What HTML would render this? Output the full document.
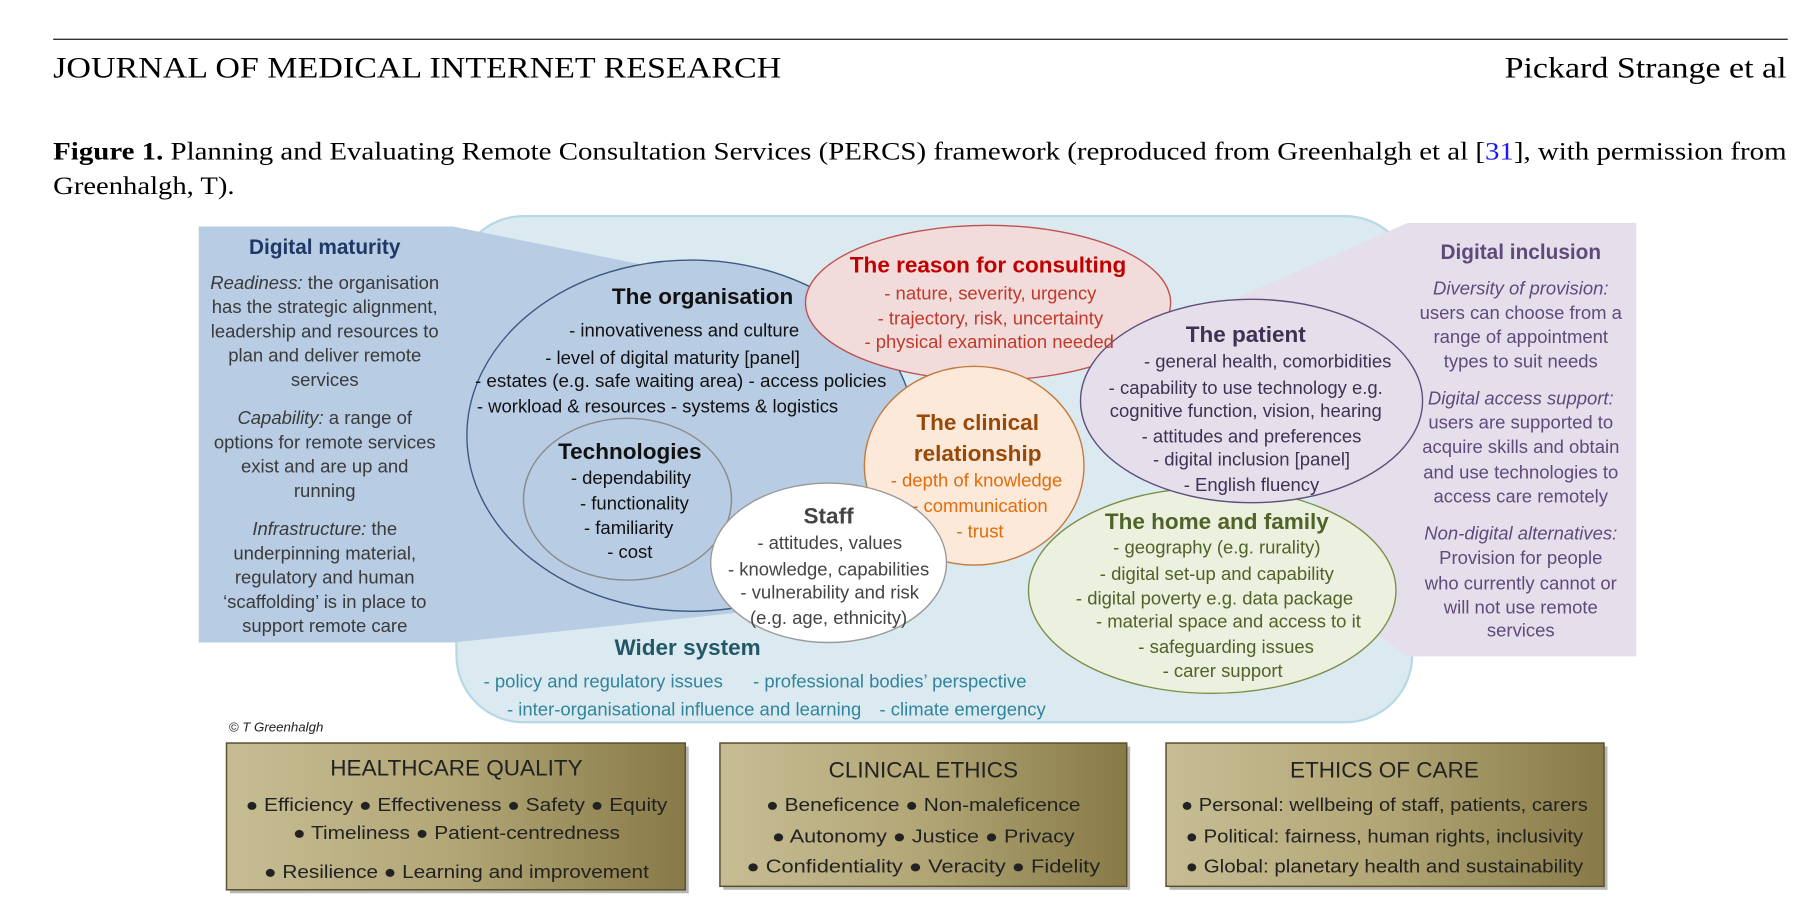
<!DOCTYPE html>
<html><head><meta charset="utf-8"><style>
html,body{margin:0;padding:0;background:#fff;width:1812px;height:921px;overflow:hidden}
svg{display:block}
.c{font-family:"Liberation Sans",sans-serif;text-anchor:middle}
.s{font-family:"Liberation Serif",serif}
</style></head><body>
<svg width="1812" height="921" viewBox="0 0 1568 797" preserveAspectRatio="none" xmlns="http://www.w3.org/2000/svg">
<defs>
<linearGradient id="g" x1="0" x2="1" y1="0" y2="0"><stop offset="0" stop-color="#c7bd94"/><stop offset="0.5" stop-color="#b2a676"/><stop offset="1" stop-color="#877a47"/></linearGradient>
</defs>
<line x1="46" y1="34" x2="1547" y2="34" stroke="#333" stroke-width="1.2"/>
<text class="s" x="46" y="67" font-size="26" fill="#000" textLength="630" lengthAdjust="spacingAndGlyphs">JOURNAL OF MEDICAL INTERNET RESEARCH</text>
<text class="s" x="1302" y="67" font-size="26" fill="#000" textLength="244" lengthAdjust="spacingAndGlyphs">Pickard Strange et al</text>
<text class="s" x="46" y="138" font-size="21.5" fill="#000" textLength="1500" lengthAdjust="spacingAndGlyphs"><tspan font-weight="bold">Figure 1.</tspan> Planning and Evaluating Remote Consultation Services (PERCS) framework (reproduced from Greenhalgh et al [<tspan fill="#1a1aee">31</tspan>], with permission from</text>
<text class="s" x="46" y="168" font-size="21.5" fill="#000" textLength="157" lengthAdjust="spacingAndGlyphs">Greenhalgh, T).</text>

<rect x="395" y="187" width="827" height="438" rx="58" fill="#dbeaf1" stroke="#b9d8e6" stroke-width="2"/>
<polygon points="172,196 392,196 700,258 640,530 392,556 172,556" fill="#b8cce4"/>
<polygon points="1218,193 1416,193 1416,568 1218,568 1190,548 1060,262" fill="#e5dfec"/>

<ellipse cx="598" cy="377" rx="194" ry="152" fill="#b8cce4" stroke="#3b5a80" stroke-width="1.2"/>
<ellipse cx="543" cy="432" rx="90" ry="70" fill="#b8cce4" stroke="#8a8a8a" stroke-width="1.2"/>
<ellipse cx="855" cy="262" rx="158" ry="67" fill="#f2dcdb" stroke="#c0504d" stroke-width="1.2"/>
<ellipse cx="843" cy="403" rx="95" ry="86" fill="#fde9d9" stroke="#c27a3e" stroke-width="1.2"/>
<ellipse cx="717" cy="487" rx="102" ry="69" fill="#fff" stroke="#999" stroke-width="1.2"/>
<ellipse cx="1049" cy="511" rx="159" ry="89" fill="#ebf1de" stroke="#7b8f4a" stroke-width="1.2"/>
<ellipse cx="1083" cy="347" rx="148" ry="88" fill="#e5dfec" stroke="#5f4d7a" stroke-width="1.2"/>

<g class="c" font-size="16" fill="#3a3a3a">
<text x="281" y="220" font-size="18" font-weight="bold" fill="#1f3864">Digital maturity</text>
<text x="281" y="250"><tspan font-style="italic">Readiness:</tspan> the organisation</text>
<text x="281" y="271">has the strategic alignment,</text>
<text x="281" y="292">leadership and resources to</text>
<text x="281" y="313">plan and deliver remote</text>
<text x="281" y="334">services</text>
<text x="281" y="367"><tspan font-style="italic">Capability:</tspan> a range of</text>
<text x="281" y="388">options for remote services</text>
<text x="281" y="409">exist and are up and</text>
<text x="281" y="430">running</text>
<text x="281" y="463"><tspan font-style="italic">Infrastructure:</tspan> the</text>
<text x="281" y="484">underpinning material,</text>
<text x="281" y="505">regulatory and human</text>
<text x="281" y="526">‘scaffolding’ is in place to</text>
<text x="281" y="547">support remote care</text>
</g>

<g class="c" font-size="16" fill="#111">
<text x="608" y="263" font-size="19.5" font-weight="bold">The organisation</text>
<text x="592" y="291">- innovativeness and culture</text>
<text x="582" y="315">- level of digital maturity [panel]</text>
<text x="589" y="335" textLength="356" lengthAdjust="spacingAndGlyphs">- estates (e.g. safe waiting area) - access policies</text>
<text x="569" y="357">- workload &amp; resources  - systems &amp; logistics</text>
<text x="545" y="397" font-size="19.5" font-weight="bold">Technologies</text>
<text x="546" y="419">- dependability</text>
<text x="549" y="441">- functionality</text>
<text x="544" y="462">- familiarity</text>
<text x="545" y="483">- cost</text>
</g>

<g class="c" font-size="16" fill="#c0392b">
<text x="855" y="236" font-size="19.5" font-weight="bold" fill="#c00000">The reason for consulting</text>
<text x="857" y="259">- nature, severity, urgency</text>
<text x="857" y="281">- trajectory, risk, uncertainty</text>
<text x="856" y="301">- physical examination needed</text>
</g>

<g class="c" font-size="16" fill="#e36c09">
<text x="846" y="372" font-size="19.5" font-weight="bold" fill="#984807">The clinical</text>
<text x="846" y="399" font-size="19.5" font-weight="bold" fill="#984807">relationship</text>
<text x="845" y="421">- depth of knowledge</text>
<text x="848" y="443">- communication</text>
<text x="848" y="465">- trust</text>
</g>

<g class="c" font-size="16" fill="#444">
<text x="717" y="453" font-size="19.5" font-weight="bold" fill="#444">Staff</text>
<text x="718" y="475">- attitudes, values</text>
<text x="717" y="498">- knowledge, capabilities</text>
<text x="718" y="518">- vulnerability and risk</text>
<text x="717" y="540">(e.g. age, ethnicity)</text>
</g>

<g class="c" font-size="16" fill="#3f3151">
<text x="1078" y="296" font-size="19.5" font-weight="bold" fill="#3f3151">The patient</text>
<text x="1097" y="318">- general health, comorbidities</text>
<text x="1078" y="341">- capability to use technology e.g.</text>
<text x="1078" y="361">cognitive function, vision, hearing</text>
<text x="1083" y="383">- attitudes and preferences</text>
<text x="1083" y="403">- digital inclusion [panel]</text>
<text x="1083" y="425">- English fluency</text>
</g>

<g class="c" font-size="16" fill="#4f6228">
<text x="1053" y="458" font-size="19.5" font-weight="bold" fill="#4f6228">The home and family</text>
<text x="1053" y="479">- geography (e.g. rurality)</text>
<text x="1053" y="502">-   digital set-up and capability</text>
<text x="1051" y="523">-   digital poverty e.g. data package</text>
<text x="1063" y="543">- material space and access to it</text>
<text x="1061" y="565">- safeguarding issues</text>
<text x="1058" y="586">- carer support</text>
</g>

<g class="c" font-size="16" fill="#31849b">
<text x="595" y="567" font-size="19.5" font-weight="bold" fill="#215868">Wider system</text>
<text x="522" y="595">- policy and regulatory issues</text>
<text x="770" y="595">- professional bodies’ perspective</text>
<text x="592" y="619">- inter-organisational influence and learning</text>
<text x="833" y="619">- climate emergency</text>
</g>

<g class="c" font-size="16" fill="#604a7b">
<text x="1316" y="224" font-size="18" font-weight="bold" fill="#5f497a">Digital inclusion</text>
<text x="1316" y="255" font-style="italic">Diversity of provision:</text>
<text x="1316" y="276">users can choose from a</text>
<text x="1316" y="297">range of appointment</text>
<text x="1316" y="318">types to suit needs</text>
<text x="1316" y="350" font-style="italic">Digital access support:</text>
<text x="1316" y="371">users are supported to</text>
<text x="1316" y="392">acquire skills and obtain</text>
<text x="1316" y="414">and use technologies to</text>
<text x="1316" y="435">access care remotely</text>
<text x="1316" y="467" font-style="italic">Non-digital alternatives:</text>
<text x="1316" y="488">Provision for people</text>
<text x="1316" y="510">who currently cannot or</text>
<text x="1316" y="531">will not use remote</text>
<text x="1316" y="551">services</text>
</g>

<text x="198" y="633" font-family="Liberation Sans,sans-serif" font-size="11.5" font-style="italic" fill="#222">© T Greenhalgh</text>

<g>
<rect x="199" y="646" width="397" height="127" fill="#b8b8b0"/>
<rect x="196" y="643" width="397" height="127" fill="url(#g)" stroke="#5a5030" stroke-width="1.3"/>
<rect x="626" y="646" width="352" height="124" fill="#b8b8b0"/>
<rect x="623" y="643" width="352" height="124" fill="url(#g)" stroke="#5a5030" stroke-width="1.3"/>
<rect x="1012" y="646" width="379" height="124" fill="#b8b8b0"/>
<rect x="1009" y="643" width="379" height="124" fill="url(#g)" stroke="#5a5030" stroke-width="1.3"/>
</g>
<g class="c" font-size="16" fill="#222">
<text x="395" y="671" font-size="19.5">HEALTHCARE QUALITY</text>
<text x="395" y="702" textLength="365" lengthAdjust="spacingAndGlyphs">● Efficiency  ● Effectiveness  ● Safety  ● Equity</text>
<text x="395" y="726" textLength="283" lengthAdjust="spacingAndGlyphs">● Timeliness  ● Patient-centredness</text>
<text x="395" y="760" textLength="333" lengthAdjust="spacingAndGlyphs">● Resilience  ● Learning and improvement</text>
<text x="799" y="673" font-size="19.5">CLINICAL ETHICS</text>
<text x="799" y="702" textLength="272" lengthAdjust="spacingAndGlyphs">● Beneficence  ● Non-maleficence</text>
<text x="799" y="729" textLength="262" lengthAdjust="spacingAndGlyphs">● Autonomy  ● Justice  ● Privacy</text>
<text x="799" y="755" textLength="306" lengthAdjust="spacingAndGlyphs">● Confidentiality  ● Veracity  ● Fidelity</text>
<text x="1198" y="673" font-size="19.5">ETHICS OF CARE</text>
<text x="1198" y="702" textLength="352" lengthAdjust="spacingAndGlyphs">● Personal: wellbeing of staff, patients, carers</text>
<text x="1198" y="729" textLength="344" lengthAdjust="spacingAndGlyphs">● Political: fairness, human rights, inclusivity</text>
<text x="1198" y="755" textLength="344" lengthAdjust="spacingAndGlyphs">● Global: planetary health and sustainability</text>
</g>
</svg>
</body></html>
